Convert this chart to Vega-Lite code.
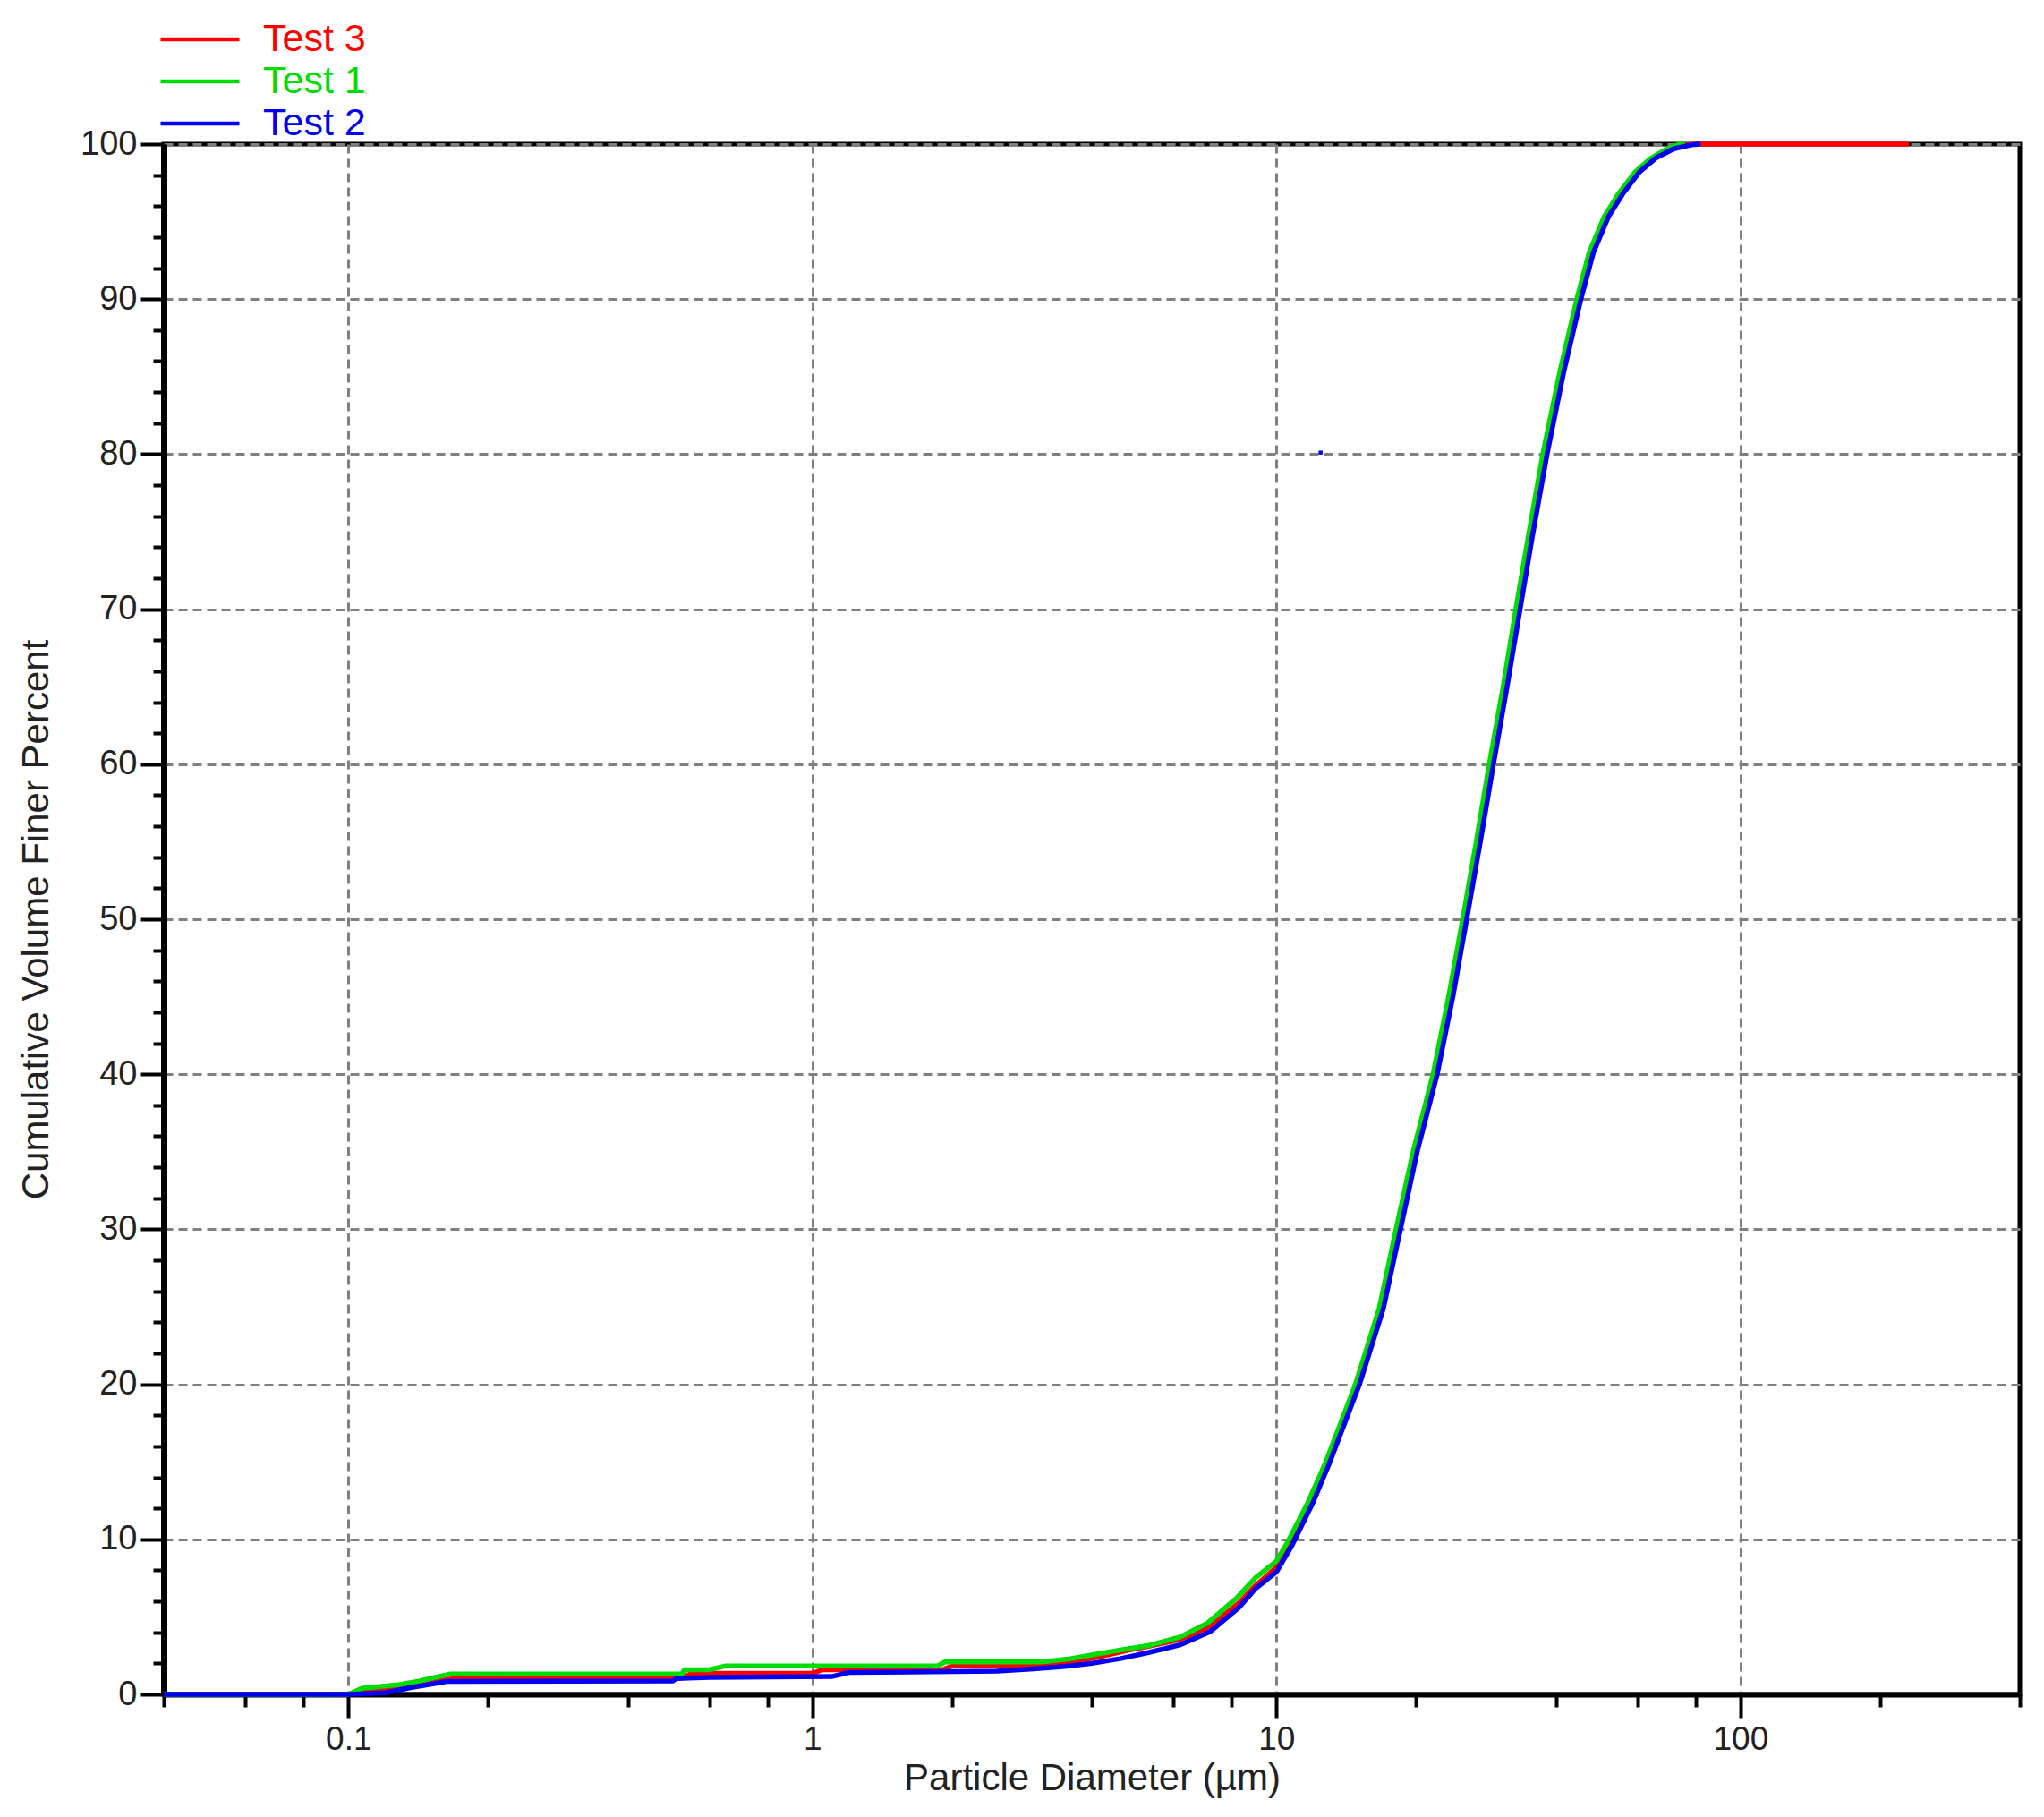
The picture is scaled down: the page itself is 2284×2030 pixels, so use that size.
{
  "$schema": "https://vega.github.io/schema/vega-lite/v6.json",
  "width": 2074,
  "height": 1732,
  "autosize": {"type": "none"},
  "padding": {"left": 183, "top": 161, "right": 27, "bottom": 137},
  "background": "white",
  "config": {"font": "Liberation Sans", "view": {"stroke": "black", "strokeWidth": 5}},
  "datasets": {
    "curves": [
      {"test": "Test 3", "kind": "line", "d": 0.04, "p": 0},
      {"test": "Test 3", "kind": "line", "d": 0.1, "p": 0},
      {"test": "Test 3", "kind": "line", "d": 0.115, "p": 0.3},
      {"test": "Test 3", "kind": "line", "d": 0.135, "p": 0.6},
      {"test": "Test 3", "kind": "line", "d": 0.155, "p": 0.9},
      {"test": "Test 3", "kind": "line", "d": 0.175, "p": 1.05},
      {"test": "Test 3", "kind": "line", "d": 0.52, "p": 1.05},
      {"test": "Test 3", "kind": "line", "d": 0.55, "p": 1.35},
      {"test": "Test 3", "kind": "line", "d": 1.0, "p": 1.35},
      {"test": "Test 3", "kind": "line", "d": 1.05, "p": 1.59},
      {"test": "Test 3", "kind": "line", "d": 1.9, "p": 1.59},
      {"test": "Test 3", "kind": "line", "d": 2.0, "p": 1.84},
      {"test": "Test 3", "kind": "line", "d": 3.2, "p": 1.84},
      {"test": "Test 3", "kind": "line", "d": 3.6, "p": 2.05},
      {"test": "Test 3", "kind": "line", "d": 4.2, "p": 2.45},
      {"test": "Test 3", "kind": "line", "d": 4.8, "p": 2.85},
      {"test": "Test 3", "kind": "line", "d": 5.5, "p": 3.2},
      {"test": "Test 3", "kind": "line", "d": 6.2, "p": 3.55},
      {"test": "Test 3", "kind": "line", "d": 7.2, "p": 4.4},
      {"test": "Test 3", "kind": "line", "d": 8.3, "p": 5.9},
      {"test": "Test 3", "kind": "line", "d": 9.0, "p": 7.0},
      {"test": "Test 3", "kind": "line", "d": 10.0, "p": 8.2},
      {"test": "Test 3", "kind": "line", "d": 10.75, "p": 9.7},
      {"test": "Test 3", "kind": "line", "d": 11.9, "p": 12.4},
      {"test": "Test 3", "kind": "line", "d": 12.9, "p": 14.9},
      {"test": "Test 3", "kind": "line", "d": 14.95, "p": 20},
      {"test": "Test 3", "kind": "line", "d": 16.85, "p": 24.9},
      {"test": "Test 3", "kind": "line", "d": 18.3, "p": 30},
      {"test": "Test 3", "kind": "line", "d": 19.9, "p": 35},
      {"test": "Test 3", "kind": "line", "d": 22.0, "p": 40},
      {"test": "Test 3", "kind": "line", "d": 23.75, "p": 45},
      {"test": "Test 3", "kind": "line", "d": 25.45, "p": 50},
      {"test": "Test 3", "kind": "line", "d": 27.2, "p": 55},
      {"test": "Test 3", "kind": "line", "d": 29.05, "p": 60},
      {"test": "Test 3", "kind": "line", "d": 31.1, "p": 65},
      {"test": "Test 3", "kind": "line", "d": 33.2, "p": 70},
      {"test": "Test 3", "kind": "line", "d": 35.25, "p": 74.7},
      {"test": "Test 3", "kind": "line", "d": 37.9, "p": 80},
      {"test": "Test 3", "kind": "line", "d": 41.2, "p": 85.3},
      {"test": "Test 3", "kind": "line", "d": 44.85, "p": 90},
      {"test": "Test 3", "kind": "line", "d": 47.7, "p": 93},
      {"test": "Test 3", "kind": "line", "d": 51.4, "p": 95.3},
      {"test": "Test 3", "kind": "line", "d": 55.2, "p": 96.8},
      {"test": "Test 3", "kind": "line", "d": 60, "p": 98.2},
      {"test": "Test 3", "kind": "line", "d": 65, "p": 99.1},
      {"test": "Test 3", "kind": "line", "d": 70.6, "p": 99.7},
      {"test": "Test 3", "kind": "line", "d": 76, "p": 99.95},
      {"test": "Test 3", "kind": "line", "d": 80, "p": 100},
      {"test": "Test 3", "kind": "line", "d": 231, "p": 100},

      {"test": "Test 1", "kind": "line", "d": 0.04, "p": 0},
      {"test": "Test 1", "kind": "line", "d": 0.1, "p": 0},
      {"test": "Test 1", "kind": "line", "d": 0.107, "p": 0.39},
      {"test": "Test 1", "kind": "line", "d": 0.128, "p": 0.62},
      {"test": "Test 1", "kind": "line", "d": 0.142, "p": 0.85},
      {"test": "Test 1", "kind": "line", "d": 0.153, "p": 1.08},
      {"test": "Test 1", "kind": "line", "d": 0.166, "p": 1.32},
      {"test": "Test 1", "kind": "line", "d": 0.523, "p": 1.32},
      {"test": "Test 1", "kind": "line", "d": 0.53, "p": 1.59},
      {"test": "Test 1", "kind": "line", "d": 0.6, "p": 1.59},
      {"test": "Test 1", "kind": "line", "d": 0.65, "p": 1.84},
      {"test": "Test 1", "kind": "line", "d": 1.86, "p": 1.84},
      {"test": "Test 1", "kind": "line", "d": 1.93, "p": 2.09},
      {"test": "Test 1", "kind": "line", "d": 3.1, "p": 2.09},
      {"test": "Test 1", "kind": "line", "d": 3.6, "p": 2.3},
      {"test": "Test 1", "kind": "line", "d": 4.1, "p": 2.6},
      {"test": "Test 1", "kind": "line", "d": 4.7, "p": 2.9},
      {"test": "Test 1", "kind": "line", "d": 5.3, "p": 3.15},
      {"test": "Test 1", "kind": "line", "d": 6.2, "p": 3.7},
      {"test": "Test 1", "kind": "line", "d": 7.1, "p": 4.6},
      {"test": "Test 1", "kind": "line", "d": 8.2, "p": 6.2},
      {"test": "Test 1", "kind": "line", "d": 9.0, "p": 7.5},
      {"test": "Test 1", "kind": "line", "d": 10.0, "p": 8.6},
      {"test": "Test 1", "kind": "line", "d": 10.6, "p": 9.9},
      {"test": "Test 1", "kind": "line", "d": 11.7, "p": 12.4},
      {"test": "Test 1", "kind": "line", "d": 12.74, "p": 14.9},
      {"test": "Test 1", "kind": "line", "d": 14.8, "p": 20},
      {"test": "Test 1", "kind": "line", "d": 16.65, "p": 24.9},
      {"test": "Test 1", "kind": "line", "d": 18.1, "p": 30},
      {"test": "Test 1", "kind": "line", "d": 19.7, "p": 35},
      {"test": "Test 1", "kind": "line", "d": 21.75, "p": 40},
      {"test": "Test 1", "kind": "line", "d": 23.5, "p": 45},
      {"test": "Test 1", "kind": "line", "d": 25.2, "p": 50},
      {"test": "Test 1", "kind": "line", "d": 26.95, "p": 55},
      {"test": "Test 1", "kind": "line", "d": 28.75, "p": 60},
      {"test": "Test 1", "kind": "line", "d": 30.8, "p": 65},
      {"test": "Test 1", "kind": "line", "d": 32.8, "p": 70},
      {"test": "Test 1", "kind": "line", "d": 34.9, "p": 74.7},
      {"test": "Test 1", "kind": "line", "d": 37.5, "p": 80},
      {"test": "Test 1", "kind": "line", "d": 40.8, "p": 85.3},
      {"test": "Test 1", "kind": "line", "d": 44.4, "p": 90},
      {"test": "Test 1", "kind": "line", "d": 47.2, "p": 93},
      {"test": "Test 1", "kind": "line", "d": 50.8, "p": 95.3},
      {"test": "Test 1", "kind": "line", "d": 54.6, "p": 96.8},
      {"test": "Test 1", "kind": "line", "d": 59.3, "p": 98.2},
      {"test": "Test 1", "kind": "line", "d": 64.2, "p": 99.1},
      {"test": "Test 1", "kind": "line", "d": 69.5, "p": 99.7},
      {"test": "Test 1", "kind": "line", "d": 73, "p": 99.95},
      {"test": "Test 1", "kind": "line", "d": 76, "p": 100},

      {"test": "Test 2", "kind": "line", "d": 0.04, "p": 0},
      {"test": "Test 2", "kind": "line", "d": 0.1, "p": 0},
      {"test": "Test 2", "kind": "line", "d": 0.12, "p": 0.1},
      {"test": "Test 2", "kind": "line", "d": 0.136, "p": 0.43},
      {"test": "Test 2", "kind": "line", "d": 0.148, "p": 0.62},
      {"test": "Test 2", "kind": "line", "d": 0.163, "p": 0.84},
      {"test": "Test 2", "kind": "line", "d": 0.5, "p": 0.86},
      {"test": "Test 2", "kind": "line", "d": 0.51, "p": 1.03},
      {"test": "Test 2", "kind": "line", "d": 0.6, "p": 1.1},
      {"test": "Test 2", "kind": "line", "d": 1.1, "p": 1.15},
      {"test": "Test 2", "kind": "line", "d": 1.2, "p": 1.41},
      {"test": "Test 2", "kind": "line", "d": 2.5, "p": 1.5},
      {"test": "Test 2", "kind": "line", "d": 3.0, "p": 1.65},
      {"test": "Test 2", "kind": "line", "d": 3.5, "p": 1.8},
      {"test": "Test 2", "kind": "line", "d": 4.0, "p": 2.0},
      {"test": "Test 2", "kind": "line", "d": 4.6, "p": 2.3},
      {"test": "Test 2", "kind": "line", "d": 5.3, "p": 2.7},
      {"test": "Test 2", "kind": "line", "d": 6.2, "p": 3.2},
      {"test": "Test 2", "kind": "line", "d": 7.2, "p": 4.05},
      {"test": "Test 2", "kind": "line", "d": 8.3, "p": 5.6},
      {"test": "Test 2", "kind": "line", "d": 9.0, "p": 6.8},
      {"test": "Test 2", "kind": "line", "d": 10.0, "p": 7.9},
      {"test": "Test 2", "kind": "line", "d": 10.8, "p": 9.6},
      {"test": "Test 2", "kind": "line", "d": 12.0, "p": 12.4},
      {"test": "Test 2", "kind": "line", "d": 13.0, "p": 14.9},
      {"test": "Test 2", "kind": "line", "d": 15.1, "p": 20},
      {"test": "Test 2", "kind": "line", "d": 17.0, "p": 24.9},
      {"test": "Test 2", "kind": "line", "d": 18.5, "p": 30},
      {"test": "Test 2", "kind": "line", "d": 20.1, "p": 35},
      {"test": "Test 2", "kind": "line", "d": 22.2, "p": 40},
      {"test": "Test 2", "kind": "line", "d": 24.0, "p": 45},
      {"test": "Test 2", "kind": "line", "d": 25.7, "p": 50},
      {"test": "Test 2", "kind": "line", "d": 27.5, "p": 55},
      {"test": "Test 2", "kind": "line", "d": 29.35, "p": 60},
      {"test": "Test 2", "kind": "line", "d": 31.4, "p": 65},
      {"test": "Test 2", "kind": "line", "d": 33.5, "p": 70},
      {"test": "Test 2", "kind": "line", "d": 35.6, "p": 74.7},
      {"test": "Test 2", "kind": "line", "d": 38.3, "p": 80},
      {"test": "Test 2", "kind": "line", "d": 41.6, "p": 85.3},
      {"test": "Test 2", "kind": "line", "d": 45.3, "p": 90},
      {"test": "Test 2", "kind": "line", "d": 48.2, "p": 93},
      {"test": "Test 2", "kind": "line", "d": 51.9, "p": 95.3},
      {"test": "Test 2", "kind": "line", "d": 55.8, "p": 96.8},
      {"test": "Test 2", "kind": "line", "d": 60.6, "p": 98.2},
      {"test": "Test 2", "kind": "line", "d": 65.7, "p": 99.1},
      {"test": "Test 2", "kind": "line", "d": 71.8, "p": 99.7},
      {"test": "Test 2", "kind": "line", "d": 78.4, "p": 99.95},
      {"test": "Test 2", "kind": "line", "d": 82, "p": 100},

      {"test": "Test 2", "kind": "dot", "d": 12.45, "p": 80.1}
    ]
  },
  "data": {"name": "curves"},
  "encoding": {
    "x": {
      "field": "d",
      "type": "quantitative",
      "scale": {"type": "log", "domain": [0.04, 400], "nice": false},
      "axis": {
        "values": [0.04, 0.06, 0.08, 0.1, 0.2, 0.4, 0.6, 0.8, 1, 2, 4, 6, 8, 10, 20, 40, 60, 80, 100, 200, 400],
        "labelExpr": "indexof([0.1, 1, 10, 100], datum.value) >= 0 ? '' + datum.value : ''",
        "labelOverlap": false,
        "labelFlush": false,
        "labelBound": false,
        "labelFontSize": 37,
        "labelColor": "#222222",
        "labelPadding": 6,
        "tickSize": {"condition": {"test": "indexof([0.1, 1, 10, 100], datum.value) >= 0", "value": 26}, "value": 14},
        "tickColor": "black",
        "tickWidth": 4,
        "grid": true,
        "gridOpacity": {"condition": {"test": "indexof([0.1, 1, 10, 100], datum.value) >= 0", "value": 1}, "value": 0},
        "gridColor": "#808080",
        "gridDash": [10, 6],
        "gridWidth": 3,
        "domainColor": "black",
        "domainWidth": 6,
        "title": "Particle Diameter (µm)",
        "titleFontSize": 42,
        "titleFontWeight": "normal",
        "titleColor": "#222222",
        "titlePadding": 5
      }
    },
    "y": {
      "field": "p",
      "type": "quantitative",
      "scale": {"domain": [0, 100], "nice": false},
      "axis": {
        "values": [0, 2, 4, 6, 8, 10, 12, 14, 16, 18, 20, 22, 24, 26, 28, 30, 32, 34, 36, 38, 40, 42, 44, 46, 48, 50, 52, 54, 56, 58, 60, 62, 64, 66, 68, 70, 72, 74, 76, 78, 80, 82, 84, 86, 88, 90, 92, 94, 96, 98, 100],
        "labelExpr": "datum.value % 10 == 0 ? '' + datum.value : ''",
        "labelOverlap": false,
        "labelFlush": false,
        "labelBound": false,
        "labelFontSize": 38,
        "labelColor": "#222222",
        "labelPadding": 3,
        "tickSize": {"condition": {"test": "datum.value % 10 == 0", "value": 27}, "value": 12},
        "tickColor": "black",
        "tickWidth": 4,
        "grid": true,
        "gridOpacity": {"condition": {"test": "datum.value % 10 == 0", "value": 1}, "value": 0},
        "gridColor": "#808080",
        "gridDash": [10, 6],
        "gridWidth": 3,
        "domainColor": "black",
        "domainWidth": 7,
        "title": "Cumulative Volume Finer Percent",
        "titleFontSize": 42,
        "titleFontWeight": "normal",
        "titleColor": "#222222",
        "titlePadding": 27
      }
    },
    "color": {
      "field": "test",
      "type": "nominal",
      "scale": {"domain": ["Test 3", "Test 1", "Test 2"], "range": ["#ff0000", "#00dc00", "#0000f0"]},
      "legend": {
        "orient": "none",
        "legendX": -6,
        "legendY": -140,
        "title": null,
        "padding": 0,
        "symbolType": "stroke",
        "symbolSize": 7744,
        "symbolStrokeWidth": 4.5,
        "labelFontSize": 43,
        "labelFont": "Liberation Sans",
        "labelOffset": 24,
        "clipHeight": 46,
        "rowPadding": 1,
        "encode": {"labels": {"update": {"fill": {"scale": "color", "field": "value"}}}}
      }
    }
  },
  "layer": [
    {"transform": [{"filter": "datum.kind == 'line' && datum.test == 'Test 3'"}], "mark": {"type": "line", "strokeWidth": 5.5}},
    {"transform": [{"filter": "datum.kind == 'line' && datum.test == 'Test 1'"}], "mark": {"type": "line", "strokeWidth": 5.5}},
    {"transform": [{"filter": "datum.kind == 'line' && datum.test == 'Test 2'"}], "mark": {"type": "line", "strokeWidth": 5.5}},
    {"transform": [{"filter": "datum.kind == 'dot'"}], "mark": {"type": "square", "size": 20, "opacity": 1}}
  ]
}
